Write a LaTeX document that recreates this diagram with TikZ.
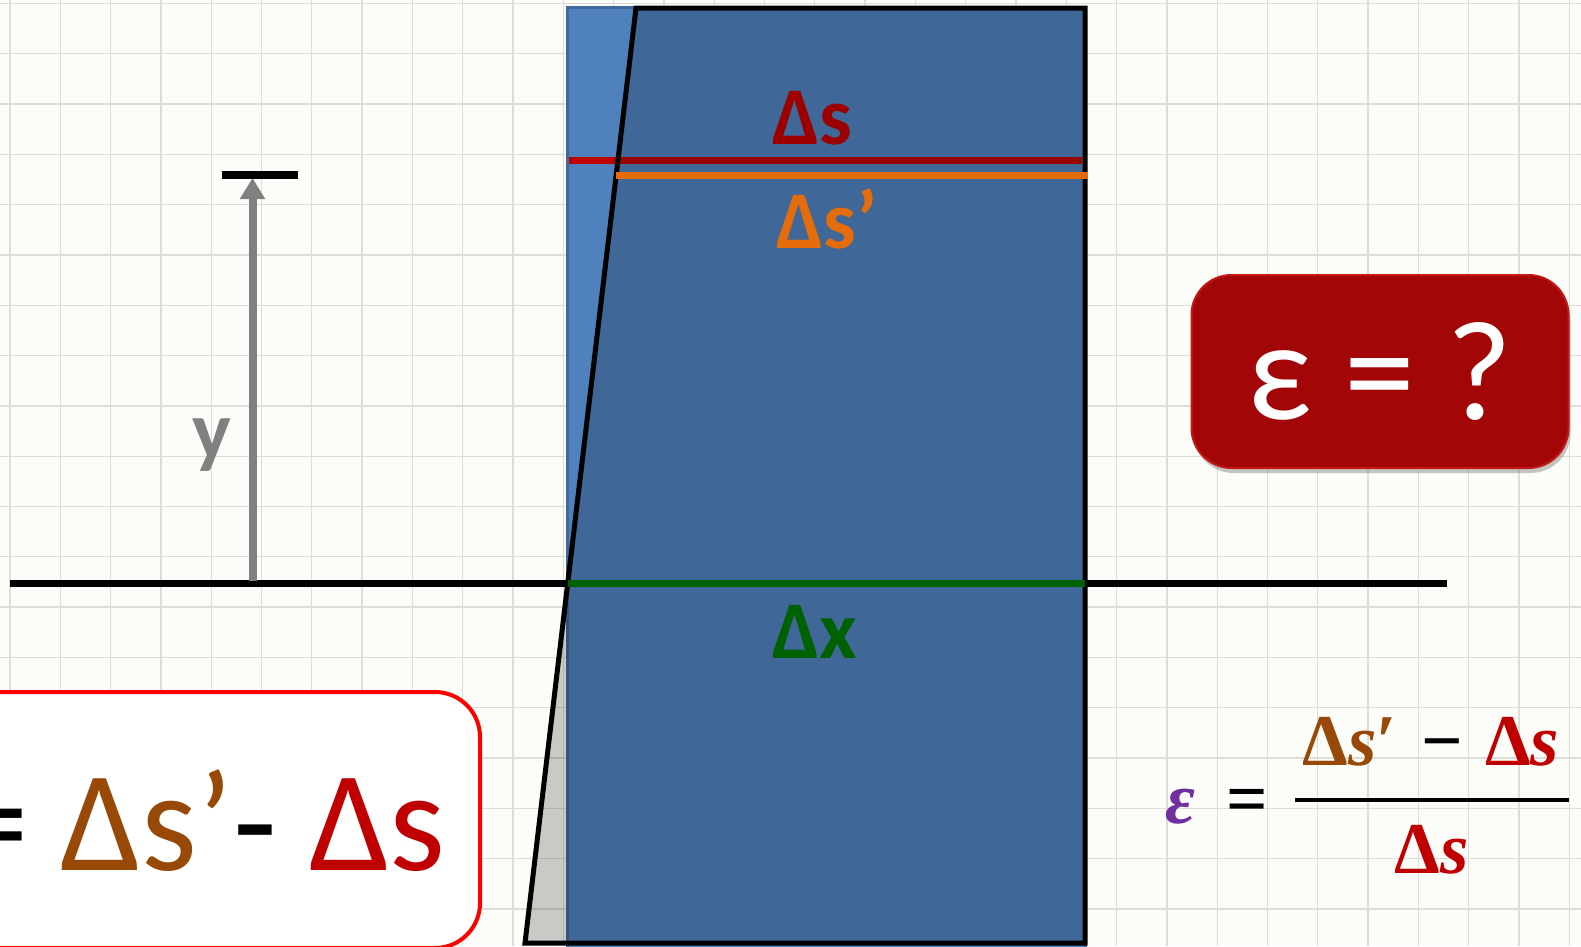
\documentclass[tikz,border=0pt]{standalone}
\usepackage{fontspec}
\setmainfont{Carlito}
\newfontfamily\formfont{Liberation Serif}
\usetikzlibrary{arrows.meta,shadows}
\definecolor{bg}{HTML}{FCFCF8}
\definecolor{gridc}{HTML}{DDDDD9}
\definecolor{lightblue}{HTML}{4F81BD}
\definecolor{blueedge}{HTML}{41699C}
\definecolor{sred}{HTML}{C00000}
\definecolor{sredd}{HTML}{9C0000}
\definecolor{sorange}{HTML}{E46C0A}
\definecolor{sgreen}{HTML}{006100}
\definecolor{sbrown}{HTML}{984807}
\definecolor{spurple}{HTML}{7030A0}
\definecolor{boxred}{HTML}{A30606}
\definecolor{boxrim}{HTML}{C41818}
\definecolor{arrowgray}{HTML}{808080}
\begin{document}
\begin{tikzpicture}[x=1pt,y=-1pt,
  gridline/.style={gridc, line width=1.3pt},
  measline/.style={line width=7pt},
  biglabel/.style={inner sep=0pt, anchor=base west, font=\fontsize{82}{90}\selectfont\bfseries},
  redbox/.style={fill=boxred, draw=boxrim, line width=2pt, rounded corners=40pt,
    minimum width=377pt, minimum height=193pt, inner sep=0pt, text=white,
    font=\fontsize{142}{150}\selectfont,
    drop shadow={opacity=0.45, shadow xshift=2pt, shadow yshift=-5pt}},
  formtext/.style={inner sep=0pt, anchor=base, font=\formfont\fontsize{73}{80}\selectfont\bfseries}
]
\useasboundingbox (0,0) rectangle (1581,946);
\clip (0,0) rectangle (1581,946);
\fill[bg] (0,0) rectangle (1581,946);
% grid
\foreach \i in {0,...,31} \draw[gridline] ({10+50.3*\i},0) -- ({10+50.3*\i},946);
\foreach \j in {0,...,18} \draw[gridline] (0,{3.5+50.3*\j}) -- (1581,{3.5+50.3*\j});

% key points
\coordinate (axL) at (10,583);
\coordinate (axR) at (1447,583);
\coordinate (rTL) at (567,7);
\coordinate (rBR) at (1085,960);
\coordinate (dTL) at (636,8);
\coordinate (dTR) at (1085,8);
\coordinate (dBR) at (1085,943);
\coordinate (dBL) at (525,943);
\coordinate (sL) at (569,160);
\coordinate (sR) at (1082,160);
\coordinate (spL) at (616,175);
\coordinate (spR) at (1088,175);
\coordinate (xL) at (568,583);
\coordinate (xR) at (1085,583);
\coordinate (ybase) at (252.5,581);
\coordinate (ytop) at (252.5,178);
\coordinate (barL) at (222,175);
\coordinate (barR) at (298,175);

% axis
\draw[black, line width=7pt] (axL) -- (axR);
% original element
\fill[lightblue] (rTL) rectangle (rBR);
\draw[blueedge, line width=3pt] (rTL) rectangle (rBR);
% original length
\draw[measline, sred] (sL) -- (sR);
% deformed element
\fill[black, opacity=0.2] (dTL) -- (dTR) -- (dBR) -- (dBL) -- cycle;
\draw[black, line width=5pt, line join=miter] (dTL) -- (dTR) -- (dBR) -- (dBL) -- cycle;
% deformed length and neutral axis
\draw[measline, sorange] (spL) -- (spR);
\draw[measline, sgreen] (xL) -- (xR);

% y arrow
\draw[arrowgray, line width=8pt, -{Triangle[width=24pt,length=21pt]}] (ybase) -- (ytop);
\draw[black, line width=8pt] (barL) -- (barR);

% labels
\node[biglabel, text=sredd] (lds) at (772,144) {Δs};
\node[biglabel, text=sorange] (ldsp) at (776,248) {Δs’};
\node[biglabel, text=sgreen] (ldx) at (772,658) {Δx};
\node[inner sep=0pt, anchor=base, text=arrowgray, font=\fontsize{82}{90}\selectfont\bfseries] (ly) at (212,458) {y};

% epsilon = ? box
\node[redbox] (q) at (1380,371.5) {ε = ?};

% bottom-left box
\draw[red, line width=4pt, fill=white, rounded corners=45pt] (-60,692) rectangle (480,948);
\node[inner sep=0pt, anchor=base east, font=\fontsize{143}{150}\selectfont] (diff) at (446,870)
  {=~{\color{sbrown}Δs’}-~{\color{sred}Δs}};

% strain formula
\node[formtext, text=spurple] (eps) at (1180,823) {\itshape ε};
\node[formtext] (eq) at (1247,823) {=};
\node[formtext] (num) at (1431,765)
  {{\color{sbrown}Δ\textit{s}′}\hspace{24pt}−\hspace{22pt}{\color{sred}Δ\textit{s}}};
\node[formtext, text=sred] (den) at (1432,873) {Δ\textit{s}};
\coordinate (fbL) at (1295,800);
\coordinate (fbR) at (1569,800);
\draw[black, line width=4.5pt] (fbL) -- (fbR);
\end{tikzpicture}
\end{document}
